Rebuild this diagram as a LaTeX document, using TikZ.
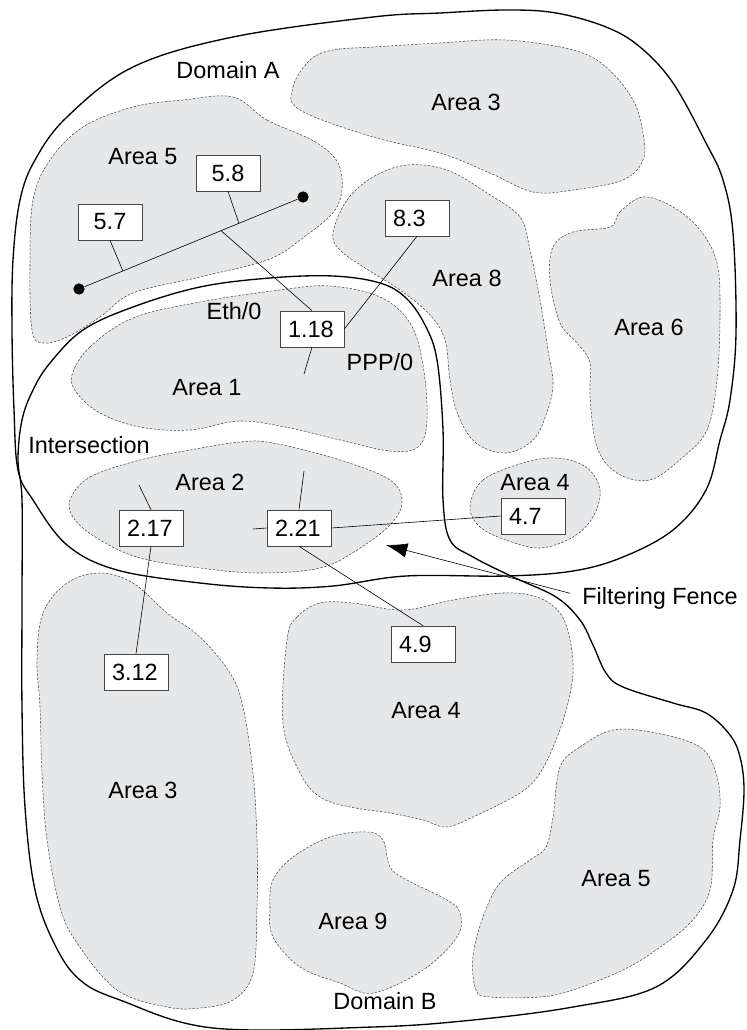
\documentclass[tikz,border=0pt]{standalone}
\usepackage{fontspec}
\setmainfont{Liberation Sans}
\usetikzlibrary{arrows.meta,calc}
\definecolor{areagray}{RGB}{230,231,233}
\definecolor{edgegray}{RGB}{70,70,70}
\begin{document}
\begin{tikzpicture}[x=0.75pt, y=-0.75pt,
    area/.style={fill=areagray, draw=edgegray, line width=0.4pt, dash pattern=on 1.8pt off 1.2pt},
    domline/.style={draw=black, line width=1pt},
    lbl/.style={font=\fontsize{17.6}{20}\selectfont, inner sep=0pt},
    addr/.style={draw=edgegray, fill=white, line width=0.5pt, font=\fontsize{17.6}{20}\selectfont,
        minimum width=48pt, minimum height=27pt, inner xsep=6pt, inner ysep=0pt, text width=36pt, align=left},
    dot/.style={circle, fill=black, inner sep=0pt, minimum size=8.5pt},
    wire/.style={draw=black, line width=0.45pt}]
    \useasboundingbox (0,0) rectangle (746,1030);

    \draw[area] plot[smooth cycle, tension=0.6] coordinates {(233,97) (267,120) (317,143) (340,168) (337,207) (300,240) (267,260) (200,277) (133,293) (100,317) (67,337) (43,343) (32,330) (30,267) (33,200) (50,160) (83,127) (133,107) (183,100)};
    \draw[area] plot[smooth cycle, tension=0.6] coordinates {(300,110) (293,87) (310,60) (333,50) (373,47) (440,43) (506,40) (573,50) (606,67) (633,100) (643,133) (643,160) (623,180) (573,190) (533,192) (490,173) (440,153) (373,137)};
    \draw[area] plot[smooth cycle, tension=0.6] coordinates {(333,233) (347,200) (373,177) (407,165) (447,170) (487,193) (520,217) (530,250) (540,300) (548,350) (553,385) (546,415) (533,440) (506,453) (476,443) (458,415) (450,380) (445,340) (430,315) (400,290) (365,268) (340,250)};
    \draw[area] plot[smooth cycle, tension=0.6] coordinates {(610,227) (620,212) (643,197) (673,207) (700,230) (717,263) (720,313) (717,380) (707,430) (683,457) (650,480) (617,473) (597,447) (590,397) (590,363) (577,343) (560,323) (550,280) (553,247) (573,232)};
    \draw[area] plot[smooth cycle, tension=0.6] coordinates {(72,375) (90,347) (133,318) (200,302) (280,290) (330,286) (380,297) (410,323) (423,365) (427,420) (418,447) (390,451) (340,440) (290,428) (240,421) (190,430) (140,427) (100,413) (77,393)};
    \draw[area] plot[smooth cycle, tension=0.6] coordinates {(70,500) (90,477) (140,460) (190,450) (240,442) (273,443) (340,460) (390,480) (402,502) (390,525) (357,550) (320,568) (260,573) (200,568) (140,558) (100,540) (75,520)};
    \draw[area] plot[smooth cycle, tension=0.6] coordinates {(470,507) (483,480) (523,463) (556,458) (586,467) (600,490) (593,517) (573,537) (540,548) (506,540) (480,527)};
    \draw[area] plot[smooth cycle, tension=0.6] coordinates {(37,660) (43,613) (67,583) (100,573) (133,583) (167,613) (200,637) (230,673) (243,707) (253,773) (257,840) (257,907) (253,973) (233,1000) (200,1008) (167,1007) (117,990) (77,943) (60,907) (47,840) (42,773) (40,707)};
    \draw[area] plot[smooth cycle, tension=0.6] coordinates {(287,640) (297,617) (320,603) (353,603) (403,610) (453,600) (503,593) (537,597) (560,613) (570,640) (573,673) (567,707) (556,740) (540,773) (520,793) (473,817) (446,827) (423,820) (390,813) (350,807) (320,797) (300,773) (283,723)};
    \draw[area] plot[smooth cycle, tension=0.6] coordinates {(273,880) (293,857) (330,837) (367,832) (383,840) (390,867) (407,880) (447,900) (460,913) (457,937) (423,970) (373,993) (340,983) (300,967) (273,937) (270,907)};
    \draw[area] plot[smooth cycle, tension=0.6] coordinates {(560,767) (580,747) (613,730) (656,733) (700,747) (716,773) (720,807) (713,840) (710,890) (690,923) (656,950) (623,970) (573,990) (540,997) (490,997) (476,990) (473,957) (483,917) (500,883) (530,860) (546,847) (553,817)};

    \draw[domline] plot[smooth cycle, tension=0.6] coordinates {(12,330) (13,260) (20,200) (35,160) (67,117) (133,67) (233,37) (373,17) (440,13) (506,10) (556,13) (606,27) (640,47) (673,83) (706,143) (723,180) (733,233) (736,333) (730,400) (720,440) (706,490) (673,530) (623,557) (573,571) (506,576) (406,576) (333,586) (270,588) (200,583) (117,570) (67,545) (33,500) (18,470) (14,410)};
    \draw[domline] plot[smooth cycle, tension=0.6] coordinates {(22,500) (18,460) (22,420) (33,390) (50,363) (83,330) (133,307) (200,287) (270,278) (333,276) (380,283) (406,298) (425,325) (437,360) (443,430) (443,500) (450,540) (473,557) (513,577) (556,597) (580,620) (593,645) (606,673) (623,687) (673,703) (706,713) (730,735) (740,757) (744,790) (740,840) (733,890) (706,940) (656,987) (573,1007) (473,1020) (373,1027) (213,1028) (120,1000) (80,980) (55,945) (35,890) (25,807) (22,707) (22,600)};

    \node[lbl] (doma) at (228,70) {Domain A};
    \node[lbl] (domb) at (385,1001) {Domain B};
    \node[lbl] (isect) at (89,445) {Intersection};
    \node[lbl] (fence) at (660,598) {Filtering Fence};
    \node[lbl] (eth) at (234,311) {Eth/0};
    \node[lbl] (ppp) at (380,362) {PPP/0};
    \node[lbl] (ar5a) at (143,157) {Area 5};
    \node[lbl] (ar3a) at (466,102) {Area 3};
    \node[lbl] (ar8) at (467,278) {Area 8};
    \node[lbl] (ar6) at (649,327) {Area 6};
    \node[lbl] (ar1) at (207,388) {Area 1};
    \node[lbl] (ar2) at (210,482) {Area 2};
    \node[lbl] (ar4a) at (535,483) {Area 4};
    \node[lbl] (ar4b) at (426,711) {Area 4};
    \node[lbl] (ar3b) at (143,790) {Area 3};
    \node[lbl] (ar9) at (353,921) {Area 9};
    \node[lbl] (ar5b) at (616,879) {Area 5};

    \node[dot] (lanl) at (79,289) {};
    \node[dot] (lanr) at (303,197) {};
    \node[addr, align=center] (a57) at (110,222) {5.7};
    \node[addr, align=center] (a58) at (228,173) {5.8};
    \node[addr] (a118) at (312,329) {1.18};
    \node[addr] (a83) at (417,218) {8.3};
    \node[addr] (a217) at (151,528) {2.17};
    \node[addr] (a221) at (299,528) {2.21};
    \node[addr] (a47) at (533,516) {4.7};
    \node[addr] (a49) at (423,644) {4.9};
    \node[addr] (a312) at (136,672) {3.12};

    \coordinate (s118) at (304,374);
    \coordinate (s217) at (139,485);
    \coordinate (s221u) at (304,471);
    \coordinate (s221l) at (253,529);
    \coordinate (fencetip) at (386,545);

    \draw[wire] (lanl) -- (lanr);
    \draw[wire] (a57.south) -- ($(lanl)!0.196!(lanr)$);
    \draw[wire] (a58.south) -- ($(lanl)!0.714!(lanr)$);
    \draw[wire] ($(lanl)!0.634!(lanr)$) -- (a118.north);
    \draw[wire] (a83.south) -- (a118.east);
    \draw[wire] (a118.south) -- (s118);
    \draw[wire] (a217.north) -- (s217);
    \draw[wire] (a217.south) -- (a312.north);
    \draw[wire] (a221.north) -- (s221u);
    \draw[wire] (a221.west) -- (s221l);
    \draw[wire] (a221.east) -- (a47.west);
    \draw[wire] (a221.south) -- (a49.north);
    \draw[wire, -{Latex[length=16pt, width=11pt]}] ([xshift=-9pt, yshift=3.5pt]fence.west) -- (fencetip);
\end{tikzpicture}
\end{document}
